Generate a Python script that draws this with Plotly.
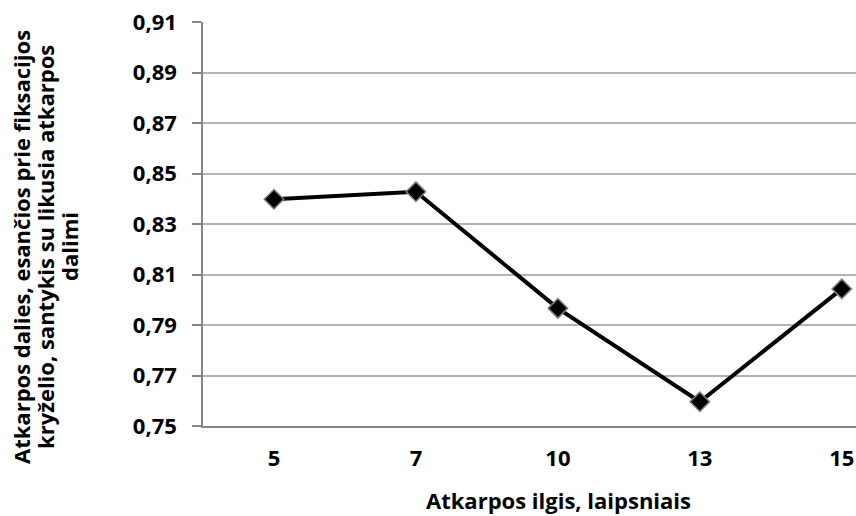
import plotly.graph_objects as go

# Segment length (degrees) and ratio of the segment part near the fixation cross
categories = ["5", "7", "10", "13", "15"]
ratios = [0.8398, 0.8428, 0.7966, 0.7596, 0.8043]
y_ticks = [0.75, 0.77, 0.79, 0.81, 0.83, 0.85, 0.87, 0.89, 0.91]
x_title = "Atkarpos ilgis, laipsniais"
y_title_lines = [
    "Atkarpos dalies, esančios prie fiksacijos",
    "kryželio, santykis su likusia atkarpos",
    "dalimi",
]

FONT = "Open Sans"
FS = 22
W, H = 856, 516
L, R, T, B = 203, 0, 22, 90
plot_w = W - L - R
plot_h = H - T - B

fig = go.Figure()
fig.add_trace(go.Scatter(
    x=list(range(len(categories))),
    y=ratios,
    mode="lines+markers",
    line=dict(color="black", width=4),
    marker=dict(symbol="diamond", size=15, color="black",
                line=dict(color="#7f7f7f", width=1.5)),
    showlegend=False,
    cliponaxis=False,
))


def px_x(px):
    return (px - L) / plot_w


def px_y(py):
    return 1 - (py - T) / plot_h


bold = dict(family=FONT, size=FS, color="black", weight="bold")

annotations = [
    dict(
        text=x_title,
        xref="paper", yref="paper",
        x=px_x(558), y=px_y(500),
        xanchor="center", yanchor="middle",
        showarrow=False,
        font=bold,
    )
]
# vertical axis title: three rotated lines, each centred on the same height
for i, line in enumerate(y_title_lines):
    annotations.append(dict(
        text=line,
        xref="paper", yref="paper",
        x=px_x(21 + 24 * i), y=px_y(247),
        xanchor="center", yanchor="middle",
        textangle=-90,
        showarrow=False,
        font=bold,
    ))

fig.update_layout(
    width=W, height=H,
    margin=dict(l=L, r=R, t=T, b=B),
    paper_bgcolor="white", plot_bgcolor="white",
    separators=",.",
    font=dict(family=FONT, size=FS, color="black"),
    xaxis=dict(
        range=[-0.5, 4.1],
        tickmode="array",
        tickvals=list(range(len(categories))),
        ticktext=categories,
        showgrid=False, zeroline=False,
        showline=True, linecolor="#868686", linewidth=1.5,
        ticks="", ticklabelstandoff=12,
        tickfont=bold,
    ),
    yaxis=dict(
        range=[0.75, 0.91],
        tickmode="array",
        tickvals=y_ticks,
        tickformat=".2f",
        showgrid=True, gridcolor="#b3b3b3", gridwidth=1.5,
        zeroline=False,
        showline=True, linecolor="#868686", linewidth=1.5,
        ticks="outside", ticklen=9, tickcolor="#868686", tickwidth=1.5,
        ticklabelstandoff=11,
        tickfont=bold,
    ),
    annotations=annotations,
)

fig.write_html("out.html")
